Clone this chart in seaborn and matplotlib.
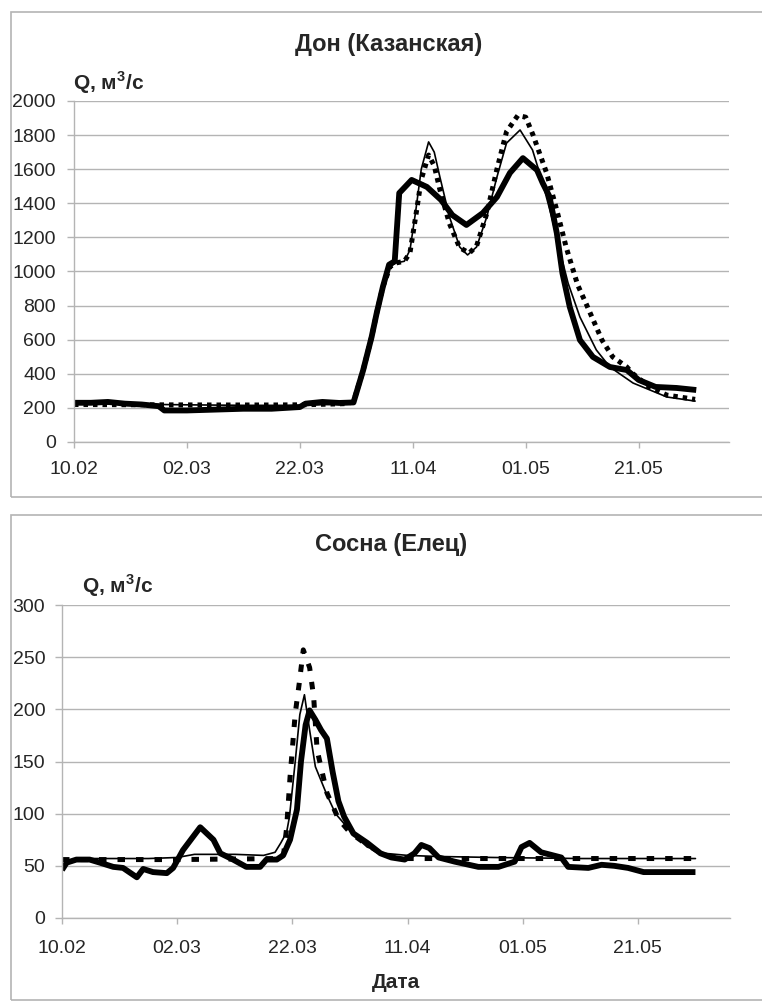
import matplotlib
matplotlib.use("Agg")
import matplotlib.pyplot as plt
import matplotlib.patches as patches
import numpy as np
import seaborn as sns

sns.set_style("white")
plt.rcParams['font.family'] = ['Liberation Sans', 'DejaVu Sans']
plt.rcParams['mathtext.fontset'] = 'custom'
plt.rcParams['mathtext.rm'] = 'Liberation Sans'
plt.rcParams['mathtext.bf'] = 'Liberation Sans:bold'

# days counted from 10.02
tick_days = [0, 20, 40, 60, 80, 100]
tick_labels = ["10.02", "02.03", "22.03", "11.04", "01.05", "21.05"]

# --- Дон (Казанская) ---
don_obs_days = [0, 3, 6, 9, 12, 15, 16, 20, 25, 30, 35, 40, 41, 44, 47, 49.5, 51.2, 52.7, 53.6, 54.7,
                55.8, 56.8, 57.6, 59.8, 62.5, 65, 67, 69.5, 72.4, 74.9, 77.2, 79.5, 82, 83, 84.2, 85.5,
                86.5, 87.8, 89.6, 91.9, 94.9, 97.9, 100, 103, 106.7, 110.2]
don_obs = [230, 230, 235, 225, 220, 210, 185, 185, 190, 195, 195, 205, 225, 235, 229, 232, 420, 615, 755, 910,
           1040, 1060, 1460, 1537, 1496, 1420, 1331, 1273, 1343, 1437, 1578, 1665, 1595, 1519, 1440, 1226,
           990, 792, 598, 499, 440, 422, 364, 323, 317, 305]

don_m1_days = [0, 10, 20, 30, 40, 45, 48, 49.5, 51.2, 52.7, 53.6, 54.7, 56, 57, 58.5, 59.5, 60.5, 61.5,
               62.8, 63.8, 64.8, 66.5, 68.3, 69.7, 71.3, 73.1, 74.9, 76.6, 79, 81.2, 83, 84.6, 86, 87.5,
               89.6, 92.5, 94.9, 99, 105, 110]
don_m1 = [225, 222, 218, 215, 215, 220, 225, 235, 420, 615, 755, 910, 1030, 1050, 1060, 1126, 1350, 1600,
          1760, 1700, 1554, 1320, 1144, 1097, 1144, 1320, 1554, 1753, 1830, 1713, 1519, 1320, 1126, 932,
          733, 540, 440, 346, 264, 240]

don_m2_days = [0, 15, 25, 35, 40, 45, 48, 49.5, 51.2, 52.7, 53.6, 54.7, 56, 57, 58.5, 59.5, 60.5, 61.5,
               62.8, 63.8, 64.8, 66.5, 68.3, 70, 71.3, 73.1, 74.9, 76.6, 78.6, 80, 81.3, 83.7, 85.5, 87.2,
               89.2, 90.8, 93.5, 95.4, 97.9, 99, 102, 105, 110]
don_m2 = [220, 218, 217, 217, 218, 222, 225, 235, 420, 615, 755, 910, 1030, 1050, 1060, 1110, 1320, 1540,
          1683, 1620, 1480, 1280, 1140, 1108, 1150, 1340, 1600, 1820, 1915, 1905, 1800, 1578, 1360, 1138,
          921, 803, 598, 499, 440, 400, 320, 275, 250]

# --- Сосна (Елец) ---
sos_obs_days = [0, 0.8, 2.5, 4.8, 6.6, 8.9, 10.6, 13, 14.1, 15.8, 18.2, 19.3, 21, 24, 26.3, 27.5, 29.7,
                32, 34.4, 35.5, 37.3, 38.4, 39.6, 40.8, 41.5, 42.3, 43, 44, 45, 46, 47, 48, 49, 50.6, 53,
                55.3, 57.2, 59.5, 61.2, 62.4, 63.8, 65.4, 68.2, 72.3, 75.8, 78.6, 79.8, 81.2, 83.2, 86.7,
                87.9, 91.4, 93.7, 95.9, 98.3, 101, 110]
sos_obs = [46, 53, 56, 56, 53, 49, 48, 39, 47, 44, 43, 48, 65, 87, 75, 62, 56,
           49, 49, 56, 56, 60, 75, 104, 150, 185, 199, 190, 180, 172, 140, 112, 97, 81, 72,
           62, 58, 56, 62, 70, 67, 58, 54, 49, 49, 54, 68, 72, 63, 58,
           49, 48, 51, 50, 48, 44, 44]

sos_m1_days = [0, 5, 10, 15, 20, 23, 30, 35, 37, 38, 39, 39.5, 40.5, 41.3, 42.1, 43, 44, 46, 47.5,
               50.6, 53, 56, 60, 65, 75, 90, 110]
sos_m1 = [55, 57, 57, 57, 58, 61, 61, 60, 63, 72, 82, 97, 150, 195, 214, 180, 145, 118, 100,
          80, 68, 62, 60, 59, 58, 57, 57]

sos_m2_days = [0, 20, 38, 38.5, 39, 39.6, 40.5, 41.2, 41.9, 43, 43.7, 44.3, 46, 48, 50, 53, 56, 60, 110]
sos_m2 = [56, 56, 57, 62, 86, 135, 196, 225, 257, 240, 212, 161, 120, 95, 82, 70, 60, 57, 57]

W, H = 762, 1001
fig = plt.figure(figsize=(W / 100, H / 100), dpi=100)

grey = "#b4b4b4"
# chart frames
for y0, y1 in [(12, 497), (515, 1000)]:
    fig.patches.append(patches.Rectangle((11 / W, 1 - y1 / H), (W + 5 - 11) / W, (y1 - y0) / H,
                                         transform=fig.transFigure, fill=False, edgecolor=grey, lw=1.2))


def px_axes(x0, x1, ytop, ybot):
    return fig.add_axes([x0 / W, 1 - ybot / H, (x1 - x0) / W, (ybot - ytop) / H])


def style_axes(ax, ymax, ystep, ypad, xpad):
    ax.set_xlim(0, 116)
    ax.set_ylim(0, ymax)
    ax.set_yticks(np.arange(0, ymax + 1, ystep))
    ax.set_xticks(tick_days)
    ax.set_xticklabels(tick_labels)
    ax.yaxis.grid(True, color=grey, lw=1)
    ax.xaxis.grid(False)
    for s in ["top", "right"]:
        ax.spines[s].set_visible(False)
    for s in ["left", "bottom"]:
        ax.spines[s].set_color(grey)
        ax.spines[s].set_linewidth(1)
    ax.tick_params(axis="y", direction="out", length=5, width=1, color=grey, labelsize=14, pad=ypad, left=True)
    ax.tick_params(axis="x", direction="out", length=4, width=1, color=grey, labelsize=14, pad=xpad, bottom=True)
    ax.set_xlabel("")
    ax.set_ylabel("")
    ax.set_axisbelow(True)


def draw(ax, series, dash):
    (d2, v2), (d1, v1), (d0, v0) = series
    sns.lineplot(x=d2, y=v2, ax=ax, color="black", lw=3.6, linestyle=(0, dash), estimator=None)
    sns.lineplot(x=d1, y=v1, ax=ax, color="black", lw=1.2, estimator=None)
    sns.lineplot(x=d0, y=v0, ax=ax, color="black", lw=4.2, estimator=None,
                 solid_joinstyle="round", solid_capstyle="butt")


ax1 = px_axes(74, 729, 101, 442)
draw(ax1, [(don_m2_days, don_m2), (don_m1_days, don_m1), (don_obs_days, don_obs)], (0.9, 1.0))
style_axes(ax1, 2000, 200, 8, 10)

ax2 = px_axes(62, 730, 605, 918)
draw(ax2, [(sos_m2_days, sos_m2), (sos_m1_days, sos_m1), (sos_obs_days, sos_obs)], (1.5, 2.2))
style_axes(ax2, 300, 50, 7, 12)

qlabel = r"Q, м$^{\mathbf{3}}$/с"
fig.text(389 / W, 1 - 45 / H, "Дон (Казанская)", ha="center", va="center", fontsize=17, fontweight="bold")
fig.text(391 / W, 1 - 545 / H, "Сосна (Елец)", ha="center", va="center", fontsize=17, fontweight="bold")
fig.text(73 / W, 1 - 90 / H, qlabel, ha="left", va="baseline", fontsize=15, fontweight="bold")
fig.text(82 / W, 1 - 593 / H, qlabel, ha="left", va="baseline", fontsize=15, fontweight="bold")
fig.text(396 / W, 1 - 983 / H, "Дата", ha="center", va="center", fontsize=15, fontweight="bold")

fig.savefig("out.png", dpi=100)
